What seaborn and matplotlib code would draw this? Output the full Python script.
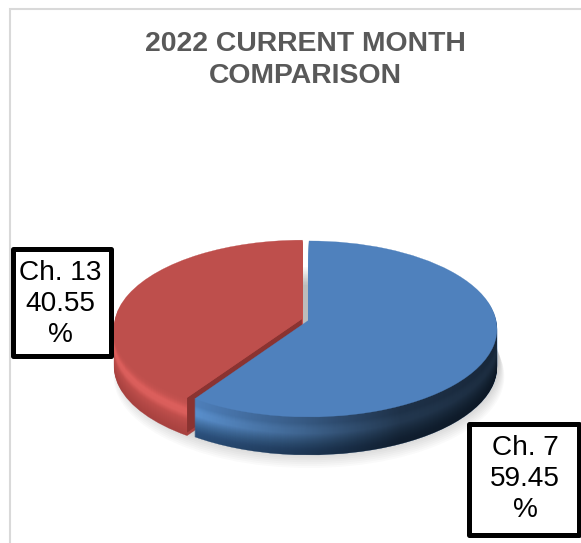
import matplotlib
matplotlib.use("Agg")
import matplotlib.pyplot as plt
from matplotlib.patches import PathPatch, Rectangle
from matplotlib.path import Path
import numpy as np
import seaborn as sns

# data
names = ["Ch. 7", "Ch. 13"]
shares = [59.45, 40.55]
title = "2022 CURRENT MONTH\nCOMPARISON"

sns.set_theme(style="white")
plt.rcParams["font.family"] = ["Liberation Sans", "DejaVu Sans"]

fig = plt.figure(figsize=(5.81, 5.43), dpi=100)
ax = fig.add_axes([0, 0, 1, 1])

# pie gives the slice angles, then it is redrawn tilted
wedges, _ = ax.pie(shares, explode=[0, 0.04], startangle=90, counterclock=False)
slices = [(w.theta1, w.theta2, w.center) for w in wedges]
for w in wedges:
    w.remove()
ax.set_aspect("auto")
ax.set_xlim(0, 581)
ax.set_ylim(543, 0)
ax.axis("off")

depth = 38
k = 0.102


def tilt(verts, dy=0.0, scale=1.0):
    # perspective of the unit circle to pixels
    u, v = verts[:, 0] * scale, verts[:, 1] * scale
    w = 1 + k * v
    return np.column_stack([309 + 187 * u / w, 320 + dy - 87.1 * v / w])


def slice_path(sl, dy=0.0):
    t1, t2, c = sl
    p = Path.wedge(t1, t2)
    return Path(tilt(p.vertices + np.array(c), dy), p.codes)


def fill(path, color, lw=0.2, **kw):
    ax.add_patch(PathPatch(path, facecolor=color, edgecolor=color, lw=lw, **kw))


# soft shadow under the disc
circle = Path.unit_circle()
for i in range(14):
    p = Path(tilt(circle.vertices, 26 + i * 1.6, 1.0 + i * 0.003), circle.codes)
    ax.add_patch(PathPatch(p, facecolor="#000000", edgecolor="none", alpha=0.018, zorder=1))

blue_wall = sns.blend_palette(["#4F81BD", "#4F81BD", "#5A90CE", "#5A90CE", "#4A7AB0", "#3A6595", "#2E5482", "#2A4E78"], depth)
red_wall = sns.blend_palette(["#BE4F4C", "#C65350", "#DC5F5C", "#DA5E5B", "#C04F4C", "#B54947", "#AE4542", "#A84240"], depth)

# red slice
for d in range(depth, 0, -1):
    fill(slice_path(slices[1], d), red_wall[d - 1], zorder=2)
t1, t2, c = slices[1]
ang = np.deg2rad(t2)
rim = np.array([np.cos(ang), np.sin(ang)]) + np.array(c)
apex = np.array(c)
top = tilt(np.array([apex, rim]))
cut = np.vstack([top, top[::-1] + [0, depth - 3]])
ax.fill(cut[:, 0], cut[:, 1], color="#8A3331", lw=0, zorder=2)
fill(slice_path(slices[1]), "#BE4F4C", zorder=2)

# blue slice, the wall gets darker to the right
wall_paths = []
for d in range(depth, 0, -1):
    p = slice_path(slices[0], d)
    wall_paths.append(p)
    fill(p, blue_wall[d - 1], zorder=3)
shade = np.zeros((1, 581, 4))
shade[0, :, 3] = np.interp(np.arange(581), [190, 300, 400, 497], [0, 0.3, 0.62, 0.7])
im = ax.imshow(shade, extent=(0, 581, 543, 0), aspect="auto", zorder=3)
im.set_clip_path(Path.make_compound_path(*wall_paths), ax.transData)
fill(slice_path(slices[0]), "#4F81BD", zorder=3)
ax.set_xlim(0, 581)
ax.set_ylim(543, 0)

# chart border
ax.plot([9.5, 9.5, 581], [543, 8.5, 8.5], color="#D9D9D9", lw=1.5, zorder=1, solid_joinstyle="miter")

ax.text(305, 60, title, ha="center", va="center", fontsize=20.4, fontweight="bold",
        color="#595959", linespacing=1.26, zorder=5)

# label boxes, one per slice
boxes = [(468.5, 423.5, 110, 111), (13, 248.5, 98, 107)]
offsets = [(1.5, 0), (-2, 2)]
for name, share, (x, y, w, h), (ox, oy) in zip(names, shares, boxes, offsets):
    ax.add_patch(Rectangle((x, y), w, h, facecolor="white", edgecolor="black", lw=3.6,
                           joinstyle="round", zorder=6))
    ax.text(x + w / 2 + ox, y + h / 2 + oy, f"{name}\n{share:.2f}\n%", ha="center", va="center",
            fontsize=20.2, color="black", linespacing=1.25, zorder=7)

fig.savefig("out.png", dpi=100)
